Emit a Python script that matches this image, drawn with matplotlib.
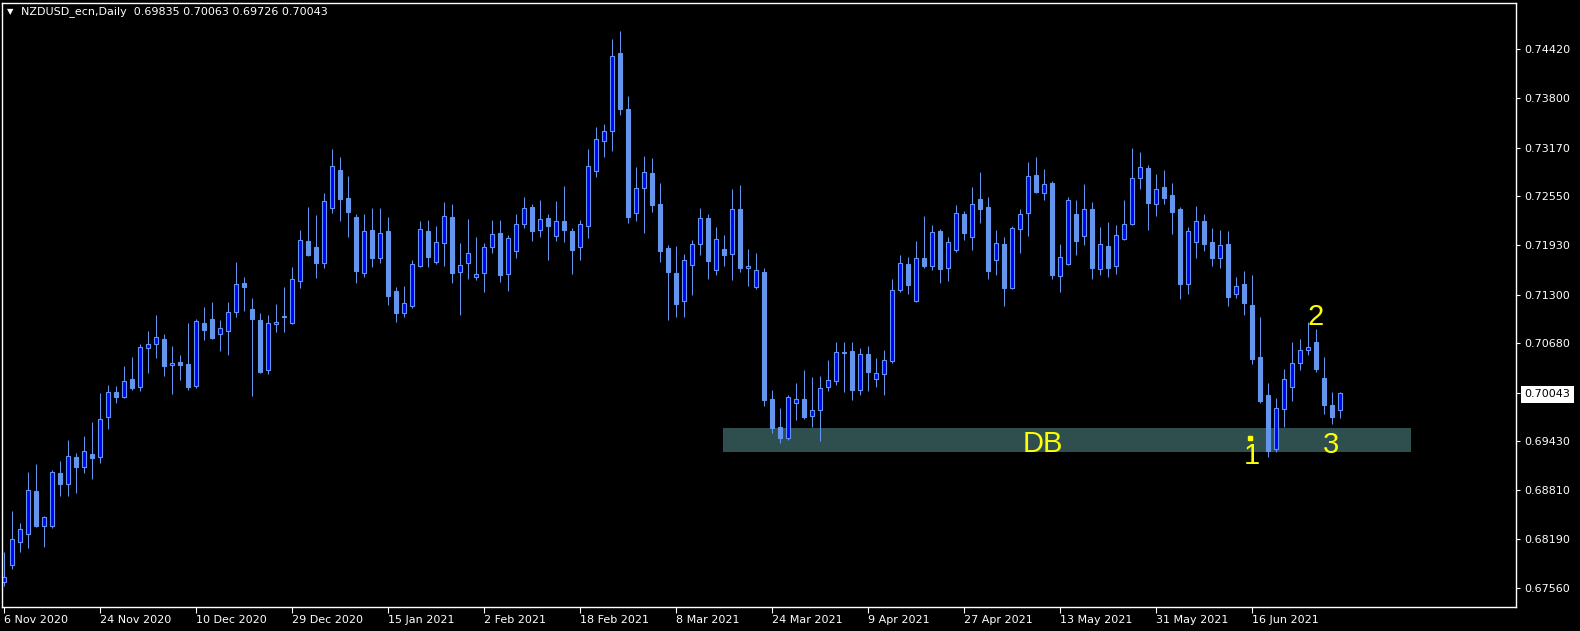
import matplotlib
matplotlib.use("Agg")
import matplotlib.pyplot as plt
import numpy as np

# NZDUSD daily bars, 6 Nov 2020 .. 1 Jul 2021
opens = [
    0.6764, 0.6786, 0.6815, 0.6825, 0.6880, 0.6835, 0.6835, 0.6903, 0.6889, 0.6923,
    0.6910, 0.6927, 0.6923, 0.6974, 0.7006, 0.6999, 0.7022, 0.7012, 0.7062, 0.7067,
    0.7073, 0.7040, 0.7044, 0.7041, 0.7013, 0.7094, 0.7099, 0.7080, 0.7084, 0.7108,
    0.7145, 0.7111, 0.7098, 0.7034, 0.7093, 0.7103, 0.7094, 0.7147, 0.7198, 0.7190,
    0.7170, 0.7240, 0.7289, 0.7253, 0.7229, 0.7158, 0.7212, 0.7177, 0.7211, 0.7135,
    0.7107, 0.7115, 0.7166, 0.7211, 0.7171, 0.7196, 0.7229, 0.7159, 0.7170, 0.7152,
    0.7158, 0.7191, 0.7209, 0.7156, 0.7186, 0.7220, 0.7242, 0.7212, 0.7228, 0.7205,
    0.7224, 0.7211, 0.7191, 0.7217, 0.7287, 0.7325, 0.7338, 0.7437, 0.7366, 0.7234,
    0.7266, 0.7285, 0.7245, 0.7189, 0.7158, 0.7122, 0.7168, 0.7195, 0.7228, 0.7161,
    0.7188, 0.7182, 0.7239, 0.7164, 0.7139, 0.7159, 0.6997, 0.6961, 0.6948, 0.6992,
    0.6997, 0.6975, 0.6983, 0.7012, 0.7020, 0.7055, 0.7058, 0.7008, 0.7054, 0.7022,
    0.7029, 0.7045, 0.7136, 0.7169, 0.7122, 0.7177, 0.7166, 0.7211, 0.7164, 0.7187,
    0.7233, 0.7203, 0.7252, 0.7241, 0.7174, 0.7195, 0.7138, 0.7213, 0.7234, 0.7282,
    0.7259, 0.7272, 0.7154, 0.7169, 0.7233, 0.7205, 0.7239, 0.7163, 0.7192, 0.7166,
    0.7201, 0.7220, 0.7278, 0.7291, 0.7245, 0.7267, 0.7257, 0.7239, 0.7144, 0.7197,
    0.7224, 0.7197, 0.7177, 0.7195, 0.7131, 0.7144, 0.7117, 0.7050, 0.7002, 0.6933,
    0.6984, 0.7012, 0.7043, 0.7060, 0.7069, 0.7024, 0.6990, 0.69835,
]
highs = [
    0.6802, 0.6855, 0.6839, 0.6904, 0.6914, 0.6848, 0.6907, 0.6918, 0.6945, 0.6928,
    0.6950, 0.6968, 0.7005, 0.7015, 0.7014, 0.7039, 0.7050, 0.7067, 0.7084, 0.7104,
    0.7080, 0.7064, 0.7053, 0.7094, 0.7099, 0.7114, 0.7120, 0.7098, 0.7120, 0.7171,
    0.7152, 0.7126, 0.7107, 0.7104, 0.7118, 0.7140, 0.7165, 0.7212, 0.7241, 0.7231,
    0.7259, 0.7315, 0.7305, 0.7281, 0.7233, 0.7233, 0.7240, 0.7240, 0.7229, 0.7140,
    0.7141, 0.7174, 0.7224, 0.7225, 0.7217, 0.7248, 0.7245, 0.7196, 0.7226, 0.7203,
    0.7196, 0.7225, 0.7225, 0.7206, 0.7233, 0.7254, 0.7245, 0.7250, 0.7233, 0.7249,
    0.7268, 0.7215, 0.7225, 0.7315, 0.7343, 0.7347, 0.7456, 0.7465, 0.7383, 0.7292,
    0.7306, 0.7304, 0.7272, 0.7193, 0.7192, 0.7182, 0.7200, 0.7240, 0.7233, 0.7216,
    0.7206, 0.7264, 0.7270, 0.7188, 0.7183, 0.7164, 0.7008, 0.6986, 0.7002, 0.7017,
    0.7034, 0.7025, 0.7026, 0.7047, 0.7070, 0.7070, 0.7069, 0.7062, 0.7064, 0.7049,
    0.7059, 0.7150, 0.7180, 0.7178, 0.7198, 0.7230, 0.7219, 0.7213, 0.7203, 0.7244,
    0.7236, 0.7267, 0.7286, 0.7254, 0.7212, 0.7203, 0.7217, 0.7239, 0.7299, 0.7305,
    0.7290, 0.7275, 0.7195, 0.7254, 0.7250, 0.7271, 0.7248, 0.7216, 0.7222, 0.7219,
    0.7250, 0.7316, 0.7311, 0.7295, 0.7283, 0.7288, 0.7272, 0.7241, 0.7216, 0.7243,
    0.7233, 0.7215, 0.7212, 0.7211, 0.7152, 0.7160, 0.7155, 0.7102, 0.7017, 0.6998,
    0.7035, 0.7069, 0.7074, 0.7095, 0.7086, 0.7050, 0.7006, 0.70063,
]
lows = [
    0.6759, 0.6780, 0.6802, 0.6807, 0.6834, 0.6808, 0.6833, 0.6873, 0.6873, 0.6877,
    0.6903, 0.6895, 0.6915, 0.6959, 0.6992, 0.6998, 0.7008, 0.7007, 0.7030, 0.7049,
    0.7026, 0.7003, 0.7021, 0.7008, 0.7011, 0.7072, 0.7074, 0.7058, 0.7053, 0.7101,
    0.7109, 0.7001, 0.7030, 0.7029, 0.7082, 0.7082, 0.7093, 0.7138, 0.7179, 0.7151,
    0.7164, 0.7234, 0.7224, 0.7203, 0.7145, 0.7152, 0.7165, 0.7170, 0.7117, 0.7095,
    0.7102, 0.7113, 0.7165, 0.7165, 0.7169, 0.7166, 0.7145, 0.7104, 0.7150, 0.7149,
    0.7133, 0.7183, 0.7146, 0.7135, 0.7177, 0.7215, 0.7198, 0.7203, 0.7174, 0.7198,
    0.7197, 0.7156, 0.7174, 0.7202, 0.7280, 0.7305, 0.7313, 0.7359, 0.7221, 0.7224,
    0.7209, 0.7235, 0.7171, 0.7098, 0.7102, 0.7102, 0.7130, 0.7180, 0.7150, 0.7155,
    0.7166, 0.7149, 0.7159, 0.7141, 0.7137, 0.6988, 0.6954, 0.6941, 0.6945, 0.6970,
    0.6971, 0.6961, 0.6943, 0.7007, 0.7015, 0.7006, 0.6996, 0.7002, 0.7007, 0.7012,
    0.7002, 0.7043, 0.7133, 0.7131, 0.7120, 0.7164, 0.7161, 0.7145, 0.7147, 0.7184,
    0.7200, 0.7187, 0.7221, 0.7150, 0.7155, 0.7115, 0.7137, 0.7183, 0.7205, 0.7259,
    0.7250, 0.7150, 0.7133, 0.7168, 0.7180, 0.7193, 0.7150, 0.7155, 0.7152, 0.7156,
    0.7200, 0.7219, 0.7264, 0.7212, 0.7230, 0.7245, 0.7207, 0.7124, 0.7131, 0.7177,
    0.7186, 0.7166, 0.7164, 0.7115, 0.7126, 0.7104, 0.7042, 0.6992, 0.6923, 0.6929,
    0.6961, 0.6995, 0.7034, 0.7053, 0.7031, 0.6978, 0.6965, 0.69726,
]
closes = [
    0.6771, 0.6819, 0.6832, 0.6881, 0.6835, 0.6847, 0.6904, 0.6889, 0.6924, 0.6911,
    0.6931, 0.6922, 0.6972, 0.7006, 0.6999, 0.7020, 0.7011, 0.7063, 0.7067, 0.7076,
    0.7039, 0.7043, 0.7040, 0.7012, 0.7096, 0.7085, 0.7075, 0.7088, 0.7108, 0.7144,
    0.7140, 0.7099, 0.7031, 0.7094, 0.7095, 0.7101, 0.7150, 0.7200, 0.7180, 0.7170,
    0.7249, 0.7294, 0.7252, 0.7235, 0.7160, 0.7211, 0.7177, 0.7209, 0.7128, 0.7107,
    0.7119, 0.7169, 0.7213, 0.7178, 0.7197, 0.7230, 0.7158, 0.7168, 0.7183, 0.7156,
    0.7191, 0.7207, 0.7155, 0.7202, 0.7220, 0.7240, 0.7211, 0.7226, 0.7217, 0.7224,
    0.7212, 0.7187, 0.7220, 0.7294, 0.7328, 0.7338, 0.7434, 0.7366, 0.7229, 0.7266,
    0.7286, 0.7244, 0.7186, 0.7159, 0.7118, 0.7174, 0.7195, 0.7228, 0.7173, 0.7201,
    0.7180, 0.7239, 0.7164, 0.7166, 0.7161, 0.6996, 0.6960, 0.6948, 0.7000, 0.6997,
    0.6974, 0.6983, 0.7011, 0.7021, 0.7057, 0.7057, 0.7008, 0.7054, 0.7031, 0.7030,
    0.7047, 0.7136, 0.7170, 0.7142, 0.7177, 0.7166, 0.7210, 0.7163, 0.7197, 0.7234,
    0.7209, 0.7245, 0.7239, 0.7160, 0.7196, 0.7138, 0.7215, 0.7233, 0.7281, 0.7261,
    0.7271, 0.7155, 0.7178, 0.7250, 0.7198, 0.7239, 0.7164, 0.7195, 0.7164, 0.7206,
    0.7220, 0.7278, 0.7292, 0.7246, 0.7264, 0.7253, 0.7235, 0.7144, 0.7211, 0.7224,
    0.7195, 0.7177, 0.7193, 0.7127, 0.7141, 0.7119, 0.7048, 0.6995, 0.6931, 0.6986,
    0.7022, 0.7043, 0.7060, 0.7063, 0.7035, 0.6990, 0.6974, 0.70043,
]

date_labels = ["6 Nov 2020", "24 Nov 2020", "10 Dec 2020", "29 Dec 2020",
               "15 Jan 2021", "2 Feb 2021", "18 Feb 2021", "8 Mar 2021",
               "24 Mar 2021", "9 Apr 2021", "27 Apr 2021", "13 May 2021",
               "31 May 2021", "16 Jun 2021"]
price_ticks = [0.67560, 0.68190, 0.68810, 0.69430, 0.70680,
               0.71300, 0.71930, 0.72550, 0.73170, 0.73800, 0.74420]

# double bottom zone and the 1-2-3 labels
zone_bars = (89.9, 175.9)
zone_prices = (0.6929, 0.6960)
marks = [("DB", 129.9, 0.6940), ("1", 156.0, 0.6925),
         ("2", 163.9, 0.7101), ("3", 165.9, 0.6939)]

BULL = "#0000ff"
BEAR = "#6495ed"
WICK = "#6495ed"

o = np.array(opens)
h = np.array(highs)
l = np.array(lows)
c = np.array(closes)
x = np.arange(len(o))
up = c >= o

fig = plt.figure(figsize=(15.8, 6.31), dpi=100, facecolor="black")
ax = fig.add_axes([2 / 1580, 24 / 631, 1514 / 1580, 604 / 631])
ax.set_facecolor("black")

ax.fill_between(zone_bars, zone_prices[0], zone_prices[1],
                color="#2f4f4f", lw=0, zorder=0)

ax.vlines(x, l, h, color=WICK, lw=0.75, zorder=1)
ax.bar(x[up], np.maximum(c - o, 0.00002)[up], bottom=o[up], width=0.6,
       color=BULL, edgecolor=BEAR, lw=0.8, zorder=2)
ax.bar(x[~up], (o - c)[~up], bottom=c[~up], width=0.6,
       color=BEAR, edgecolor=BEAR, lw=0.8, zorder=2)

for txt, bx, py in marks:
    ax.text(bx, py, txt, color="#ffff00", fontsize=21, ha="center",
            va="center", family="Liberation Sans", zorder=3)
ax.plot([155.8], [0.6947], marker="s", ms=2.5, color="#ffff00", zorder=3)

ax.set_xlim(-0.25, 189)
ax.set_ylim(0.67322, 0.75012)

for sp in ax.spines.values():
    sp.set_color("white")
    sp.set_linewidth(1)

# right price scale, last close shown in a white box
ax.yaxis.tick_right()
yt = price_ticks + [c[-1]]
ax.set_yticks(yt)
ax.set_yticklabels([f"{p:.5f}" for p in yt])
ax.tick_params(axis="y", colors="white", length=3, width=0.8,
               labelsize=8, pad=3)
last_lbl = ax.get_yticklabels()[-1]
last_lbl.set_color("black")
last_lbl.set_bbox(dict(facecolor="white", edgecolor="none",
                       boxstyle="square,pad=0.3"))

ax.set_xticks(np.arange(0, 12 * len(date_labels), 12))
ax.set_xticklabels(date_labels)
for lbl in ax.get_xticklabels():
    lbl.set_ha("left")
ax.tick_params(axis="x", colors="white", length=4, width=0.8,
               labelsize=8, pad=2)

# header line
fig.text(7 / 1580, 1 - 12 / 631, "\u25bc", color="white", fontsize=6,
         va="center", ha="left")
fig.text(21 / 1580, 1 - 12 / 631,
         f"NZDUSD_ecn,Daily  {o[-1]:.5f} {h[-1]:.5f} {l[-1]:.5f} {c[-1]:.5f}",
         color="white", fontsize=8, va="center", ha="left")

fig.savefig("out.png", dpi=100, facecolor="black")
